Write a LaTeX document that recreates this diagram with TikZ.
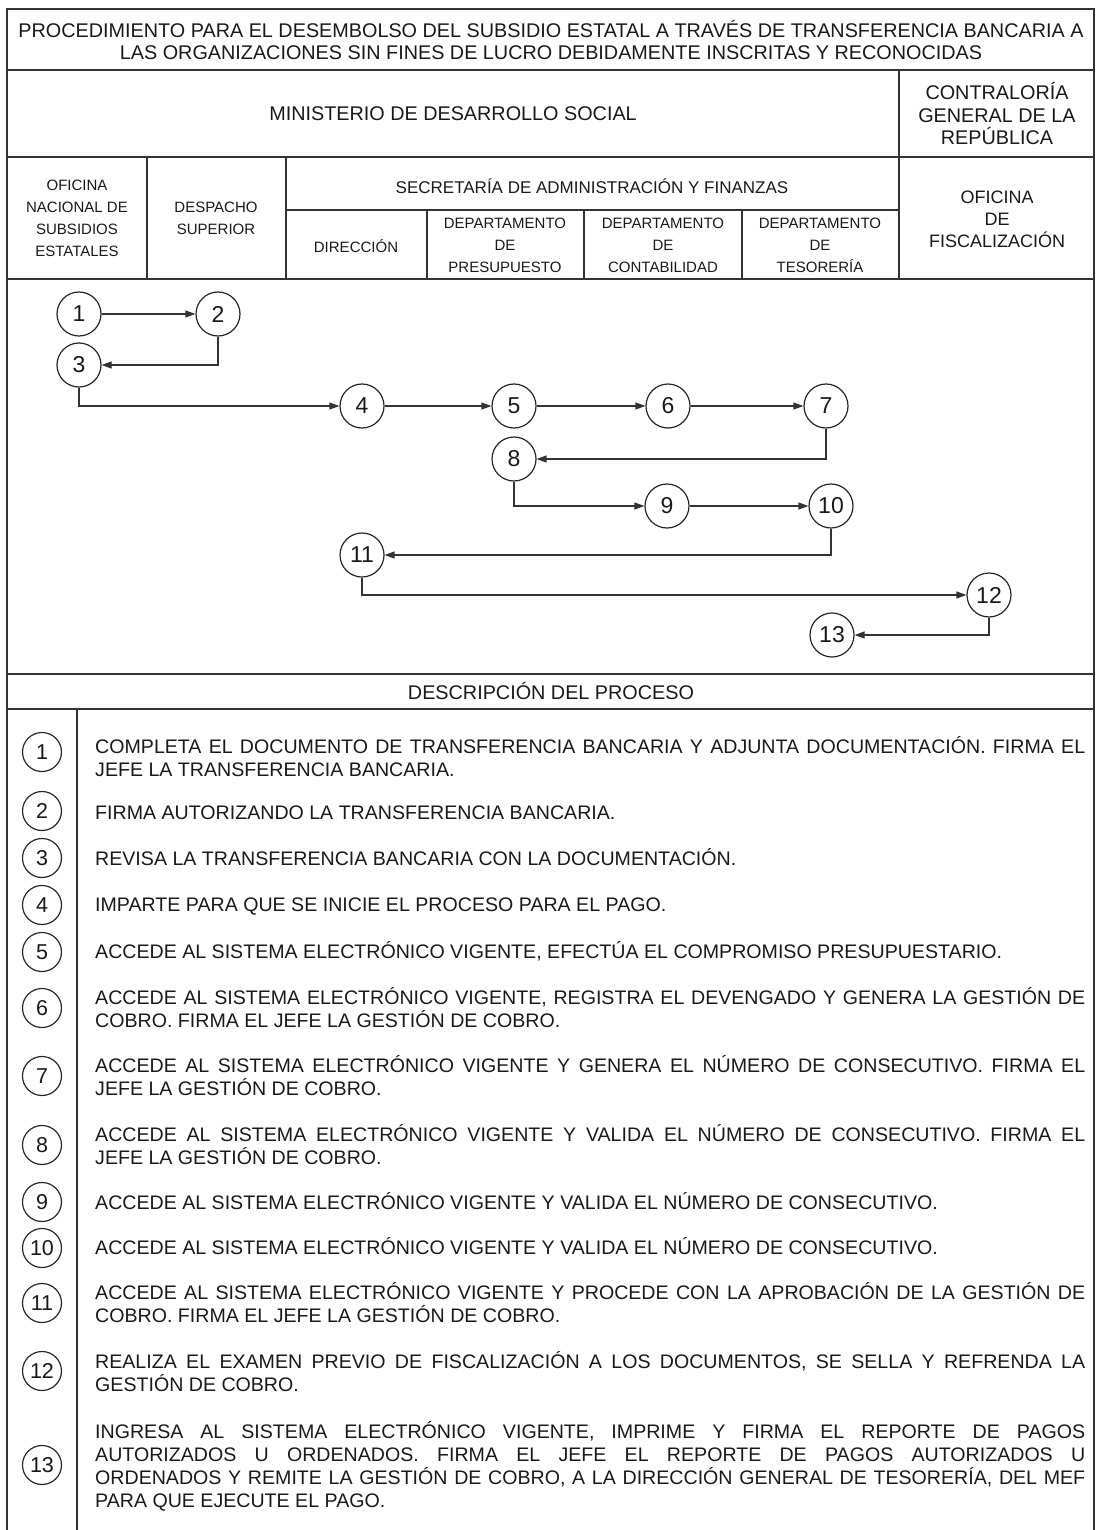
\documentclass[tikz,border=0pt]{standalone}
\usepackage{fontspec}
\setmainfont{Liberation Sans}
\usetikzlibrary{arrows.meta}

\begin{document}
\begin{tikzpicture}[x=1pt, y=-1pt]

    % Define styles
    \tikzstyle{rule} = [draw=black!80, line width=1.4pt]
    \tikzstyle{head} = [align=center, inner sep=0pt, text=black!90, font=\fontsize{19.8}{22.5}\selectfont]
    \tikzstyle{small} = [align=center, inner sep=0pt, text=black!90, font=\fontsize{15}{22}\selectfont]
    \tikzstyle{paso} = [circle, draw=black!85, line width=1.2pt, minimum size=44pt, inner sep=0pt, text=black!90, font=\fontsize{23}{23}\selectfont]
    \tikzstyle{ref} = [circle, draw=black!85, line width=1.2pt, minimum size=39pt, inner sep=0pt, text=black!90, font=\fontsize{21.5}{21.5}\selectfont]
    \tikzstyle{desc} = [anchor=base west, text width=990pt, align=justify, inner sep=0pt, text=black!90, font=\fontsize{19.6}{23}\selectfont]
    \tikzstyle{line} = [draw=black!80, line width=1.2pt, -{Triangle[length=10pt, width=7pt]}]

    \useasboundingbox (0,0) rectangle (1095,1530);

    % Frame and grid
    \path [rule] (7,1530) -- (7,9) -- (1094,9) -- (1094,1530);
    \path [rule] (7,70) -- (1094,70);
    \path [rule] (7,157) -- (1094,157);
    \path [rule] (286,210) -- (899,210);
    \path [rule] (7,279) -- (1094,279);
    \path [rule] (7,674) -- (1094,674);
    \path [rule] (7,709) -- (1094,709);
    \path [rule] (899,70) -- (899,279);
    \path [rule] (147,157) -- (147,279);
    \path [rule] (286,157) -- (286,279);
    \path [rule] (427,210) -- (427,279);
    \path [rule] (584,210) -- (584,279);
    \path [rule] (742,210) -- (742,279);
    \path [rule] (77,709) -- (77,1530);

    % Headings
    \node [head] (title) at (551,40) {PROCEDIMIENTO PARA EL DESEMBOLSO DEL SUBSIDIO ESTATAL A TRAVÉS DE TRANSFERENCIA BANCARIA A\\LAS ORGANIZACIONES SIN FINES DE LUCRO DEBIDAMENTE INSCRITAS Y RECONOCIDAS};
    \node [head] (mides) at (453,114) {MINISTERIO DE DESARROLLO SOCIAL};
    \node [head] (cgr) at (997,114) {CONTRALORÍA\\GENERAL DE LA\\REPÚBLICA};
    \node [small] (onse) at (77,218) {OFICINA\\NACIONAL DE\\SUBSIDIOS\\ESTATALES};
    \node [small] (despacho) at (216,218) {DESPACHO\\SUPERIOR};
    \node [head, font=\fontsize{17}{22}\selectfont] (saf) at (592,186) {SECRETARÍA DE ADMINISTRACIÓN Y FINANZAS};
    \node [small] (direccion) at (356,246) {DIRECCIÓN};
    \node [small] (presupuesto) at (505,245) {DEPARTAMENTO\\DE\\PRESUPUESTO};
    \node [small] (contabilidad) at (663,245) {DEPARTAMENTO\\DE\\CONTABILIDAD};
    \node [small] (tesoreria) at (820,245) {DEPARTAMENTO\\DE\\TESORERÍA};
    \node [head, font=\fontsize{18}{22}\selectfont] (fiscal) at (997,219) {OFICINA\\DE\\FISCALIZACIÓN};
    \node [head] (proceso) at (551,691) {DESCRIPCIÓN DEL PROCESO};

    % Place steps
    \node [paso] (p1) at (79,314) {1};
    \node [paso] (p2) at (218,314) {2};
    \node [paso] (p3) at (79,365) {3};
    \node [paso] (p4) at (362,406) {4};
    \node [paso] (p5) at (514,406) {5};
    \node [paso] (p6) at (668,406) {6};
    \node [paso] (p7) at (826,406) {7};
    \node [paso] (p8) at (514,459) {8};
    \node [paso] (p9) at (667,506) {9};
    \node [paso] (p10) at (831,506) {10};
    \node [paso] (p11) at (362,555) {11};
    \node [paso] (p12) at (989,595) {12};
    \node [paso] (p13) at (832,635) {13};

    % Draw edges
    \path [line] (p1) -- (p2);
    \path [line] (p2.south) |- (p3);
    \path [line] (p3.south) |- (p4);
    \path [line] (p4) -- (p5);
    \path [line] (p5) -- (p6);
    \path [line] (p6) -- (p7);
    \path [line] (p7.south) |- (p8);
    \path [line] (p8.south) |- (p9);
    \path [line] (p9) -- (p10);
    \path [line] (p10.south) |- (p11);
    \path [line] (p11.south) |- (p12);
    \path [line] (p12.south) |- (p13);

    % Description
    \node [ref] (r1) at (42,752) {1};
    \node [desc] (d1) at (95,753) {COMPLETA EL DOCUMENTO DE TRANSFERENCIA BANCARIA Y ADJUNTA DOCUMENTACIÓN. FIRMA EL\linebreak JEFE LA TRANSFERENCIA BANCARIA.};
    \node [ref] (r2) at (42,811) {2};
    \node [desc] (d2) at (95,819) {FIRMA AUTORIZANDO LA TRANSFERENCIA BANCARIA.};
    \node [ref] (r3) at (42,858) {3};
    \node [desc] (d3) at (95,865) {REVISA LA TRANSFERENCIA BANCARIA CON LA DOCUMENTACIÓN.};
    \node [ref] (r4) at (42,905) {4};
    \node [desc] (d4) at (95,911) {IMPARTE PARA QUE SE INICIE EL PROCESO PARA EL PAGO.};
    \node [ref] (r5) at (42,952) {5};
    \node [desc] (d5) at (95,958) {ACCEDE AL SISTEMA ELECTRÓNICO VIGENTE, EFECTÚA EL COMPROMISO PRESUPUESTARIO.};
    \node [ref] (r6) at (42,1008) {6};
    \node [desc] (d6) at (95,1004) {ACCEDE AL SISTEMA ELECTRÓNICO VIGENTE, REGISTRA EL DEVENGADO Y GENERA LA GESTIÓN DE\linebreak COBRO. FIRMA EL JEFE LA GESTIÓN DE COBRO.};
    \node [ref] (r7) at (42,1076) {7};
    \node [desc] (d7) at (95,1072) {ACCEDE AL SISTEMA ELECTRÓNICO VIGENTE Y GENERA EL NÚMERO DE CONSECUTIVO. FIRMA EL\linebreak JEFE LA GESTIÓN DE COBRO.};
    \node [ref] (r8) at (42,1145) {8};
    \node [desc] (d8) at (95,1141) {ACCEDE AL SISTEMA ELECTRÓNICO VIGENTE Y VALIDA EL NÚMERO DE CONSECUTIVO. FIRMA EL\linebreak JEFE LA GESTIÓN DE COBRO.};
    \node [ref] (r9) at (42,1202) {9};
    \node [desc] (d9) at (95,1209) {ACCEDE AL SISTEMA ELECTRÓNICO VIGENTE Y VALIDA EL NÚMERO DE CONSECUTIVO.};
    \node [ref] (r10) at (42,1248) {10};
    \node [desc] (d10) at (95,1254) {ACCEDE AL SISTEMA ELECTRÓNICO VIGENTE Y VALIDA EL NÚMERO DE CONSECUTIVO.};
    \node [ref] (r11) at (42,1303) {11};
    \node [desc] (d11) at (95,1299) {ACCEDE AL SISTEMA ELECTRÓNICO VIGENTE Y PROCEDE CON LA APROBACIÓN DE LA GESTIÓN DE\linebreak COBRO. FIRMA EL JEFE LA GESTIÓN DE COBRO.};
    \node [ref] (r12) at (42,1371) {12};
    \node [desc] (d12) at (95,1368) {REALIZA EL EXAMEN PREVIO DE FISCALIZACIÓN A LOS DOCUMENTOS, SE SELLA Y REFRENDA LA\linebreak GESTIÓN DE COBRO.};
    \node [ref] (r13) at (42,1465) {13};
    \node [desc] (d13) at (95,1438) {INGRESA AL SISTEMA ELECTRÓNICO VIGENTE, IMPRIME Y FIRMA EL REPORTE DE PAGOS\linebreak AUTORIZADOS U ORDENADOS. FIRMA EL JEFE EL REPORTE DE PAGOS AUTORIZADOS U\linebreak ORDENADOS Y REMITE LA GESTIÓN DE COBRO, A LA DIRECCIÓN GENERAL DE TESORERÍA, DEL MEF\linebreak PARA QUE EJECUTE EL PAGO.};

\end{tikzpicture}
\end{document}
